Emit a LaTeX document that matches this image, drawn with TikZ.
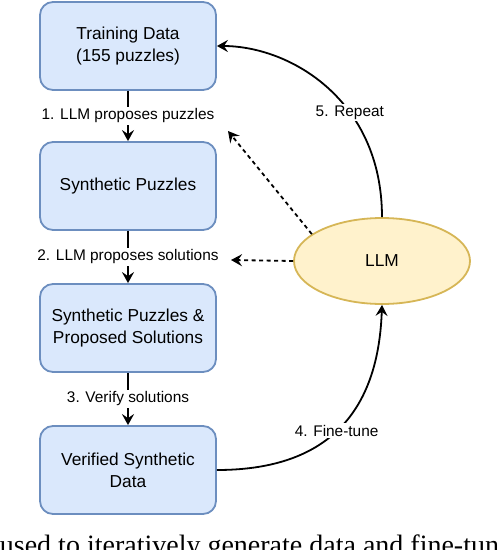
\documentclass[tikz,border=0pt]{standalone}
\usepackage{fontspec}
\setmainfont{Liberation Sans}
\newfontfamily\captionserif{Liberation Serif}
\usetikzlibrary{arrows.meta, shapes.geometric}

\definecolor{boxfill}{HTML}{DAE8FC}
\definecolor{boxline}{HTML}{6C8EBF}
\definecolor{llmfill}{HTML}{FFF2CC}
\definecolor{llmline}{HTML}{D6B656}

\begin{document}
\begin{tikzpicture}[x=1pt, y=-1pt, line width=1.8pt,
    databox/.style={draw=boxline, fill=boxfill, rounded corners=13pt, minimum width=176pt,
        minimum height=88pt, align=center, font=\fontsize{17.3}{21.7}\selectfont},
    llmnode/.style={ellipse, draw=llmline, fill=llmfill, minimum width=176pt,
        minimum height=86pt, font=\fontsize{17.3}{21.7}\selectfont},
    steplabel/.style={fill=white, inner sep=1.5pt, font=\fontsize{15.4}{18}\selectfont},
    flow/.style={-{Stealth[length=11pt, width=12pt, inset=4pt]}},
    suggest/.style={flow, dash pattern=on 4pt off 3.5pt}]

    \useasboundingbox (0, 0) rectangle (498, 550);

    \node[databox] (train) at (128, 46) {Training Data\\(155 puzzles)};
    \node[databox] (synth) at (128, 186) {Synthetic Puzzles};
    \node[databox] (solved) at (128, 328) {Synthetic Puzzles \&\\Proposed Solutions};
    \node[databox] (verified) at (128, 470) {Verified Synthetic\\Data};
    \node[llmnode] (llm) at (382, 261) {LLM};

    \coordinate (hint1) at (228, 131);
    \coordinate (hint2) at (231, 260);

    \draw[flow] (train) -- (synth) node[steplabel, midway] {1. LLM proposes puzzles};
    \draw[flow] (synth) -- (solved) node[steplabel, midway] {2. LLM proposes solutions};
    \draw[flow] (solved) -- (verified) node[steplabel, midway] {3. Verify solutions};

    \draw[suggest] (llm.159) -- (hint1);
    \draw[suggest] (llm.west) -- (hint2);

    \draw[flow] (verified.east) .. controls (320, 470) and (378, 420) .. (llm.south)
        node[steplabel, pos=0.5] {4. Fine-tune};
    \draw[flow] (llm.north) .. controls (382, 100) and (290, 46) .. (train.east)
        node[steplabel, pos=0.37] {5. Repeat};

    \begin{scope}
        \clip (0, 0) rectangle (498, 550);
        \node[anchor=base west, inner sep=0pt, font=\captionserif\fontsize{28}{30}\selectfont]
            (caption) at (-1, 554) {used to iteratively generate data and fine-tune};
    \end{scope}

\end{tikzpicture}
\end{document}
